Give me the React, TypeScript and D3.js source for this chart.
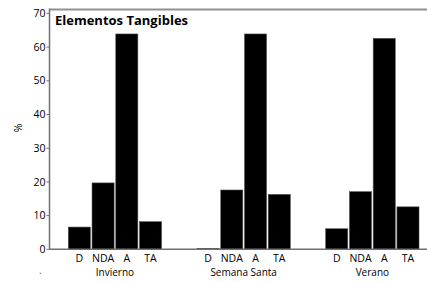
import React from "react";
import * as d3 from "d3";

const groups = ["Invierno", "Semana Santa", "Verano"];
const categories = ["D", "NDA", "A", "TA"];
const invierno = [6.6, 19.7, 63.9, 8.2];
const semanaSanta = [0.3, 17.6, 63.9, 16.3];
const verano = [6.1, 17.1, 62.6, 12.6];
const yTicks = [0, 10, 20, 30, 40, 50, 60, 70];
const title = "Elementos Tangibles";

const seriesByGroup = [invierno, semanaSanta, verano];

export default function App() {
  const W = 427, H = 282;
  const x0 = 49.5;
  const yBase = 249.3;
  const y = d3.scaleLinear().domain([0, 70]).range([yBase, 13.4]);
  const gx = d3.scaleBand<string>().domain(groups).range([x0, 437.8]).paddingInner(0.275).paddingOuter(0.146);
  const cx = d3.scaleBand<string>().domain(categories).range([0, gx.bandwidth()]).paddingInner(0.07).paddingOuter(0);
  const font = "'Open Sans', 'Noto Sans', sans-serif";
  return (
    <svg width={W} height={H} style={{ position: "absolute", left: 0, top: 0, background: "#fff" }} fontFamily={font}>
      <line x1={x0} x2={W} y1={9.5} y2={9.5} stroke="#909090" strokeWidth={2} />
      <line x1={x0} x2={x0} y1={8.5} y2={yBase} stroke="#707070" strokeWidth={1.5} />
      {groups.map((g, gi) =>
        categories.map((c, ci) => {
          const v = seriesByGroup[gi][ci];
          const bx = (gx(g) as number) + (cx(c) as number);
          return (
            <rect key={g + c} x={bx} y={y(v)} width={cx.bandwidth()} height={yBase - y(v)} fill="#000" stroke="#555" strokeWidth={0.6} />
          );
        })
      )}
      <line x1={x0} x2={W} y1={yBase} y2={yBase} stroke="#707070" strokeWidth={1.5} />
      {yTicks.map((t) => (
        <g key={t}>
          <line x1={x0 - 3} x2={x0} y1={y(t)} y2={y(t)} stroke="#707070" strokeWidth={1} />
          <text x={x0 - 4} y={y(t)} dy="0.35em" textAnchor="end" fontSize={10.5} fill="#000">{t}</text>
        </g>
      ))}
      {groups.map((g) =>
        categories.map((c) => (
          <text key={g + c + "l"} x={(gx(g) as number) + (cx(c) as number) + cx.bandwidth() / 2} y={258} dy="0.35em" textAnchor="middle" fontSize={10.5} fill="#000">{c}</text>
        ))
      )}
      {groups.map((g) => (
        <text key={g + "g"} x={(gx(g) as number) + gx.bandwidth() / 2} y={272} dy="0.35em" textAnchor="middle" fontSize={10} fill="#000">{g}</text>
      ))}
      <text transform={`translate(18,128) rotate(-90)`} textAnchor="middle" dy="0.35em" fontSize={10.5} fill="#000">%</text>
      <text x={39} y={274} fontSize={10} fill="#666">.</text>
      <text x={55} y={20} dy="0.35em" fontSize={13} fontWeight="bold" fill="#000">{title}</text>
    </svg>
  );
}
